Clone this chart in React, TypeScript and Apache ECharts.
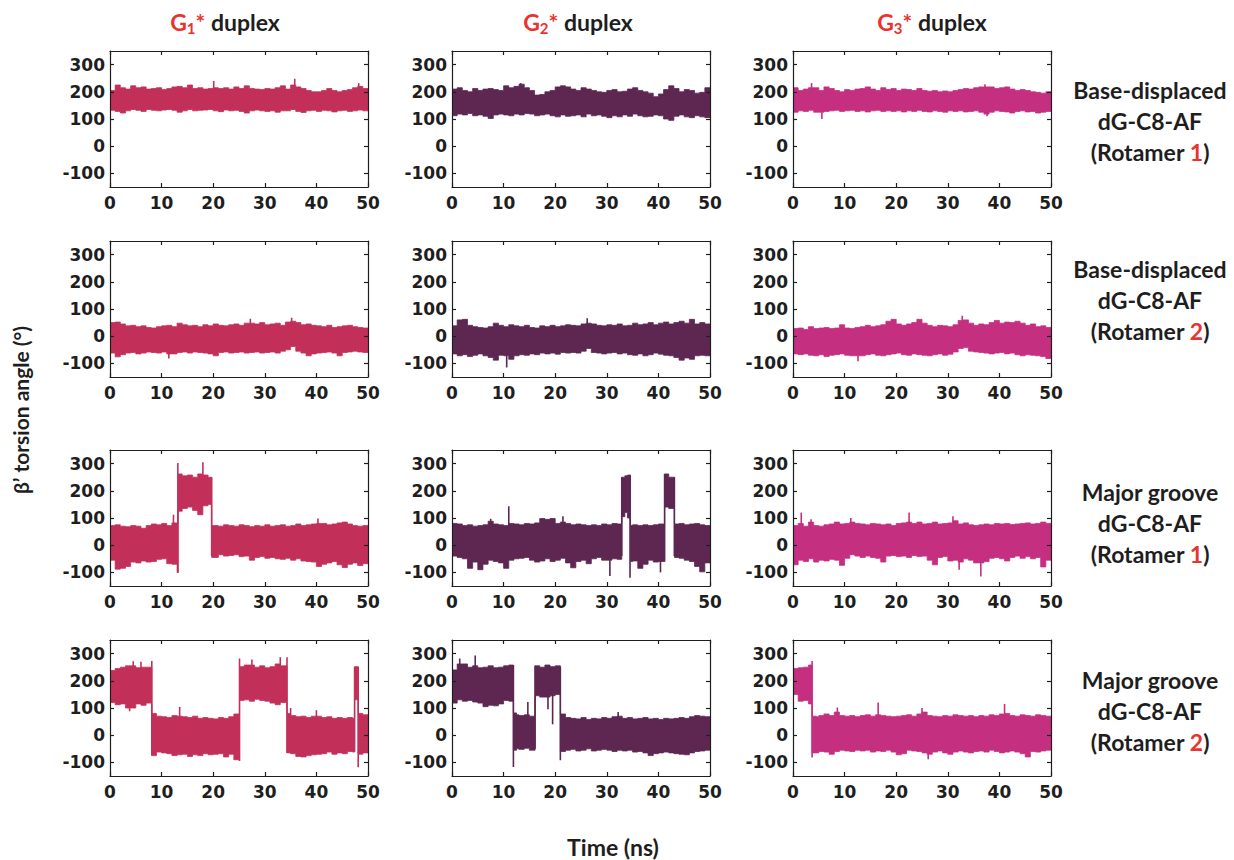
import { useEffect, useRef } from "react";
import * as echarts from "echarts";

// ---- time bins (ns) ----
const NS_BINS = [0,1,2,3,4,5,6,7,8,9,10,11,12,13,14,15,16,17,18,19,20,21,22,23,24,25,26,27,28,29,30,31,32,33,34,35,36,37,38,39,40,41,42,43,44,45,46,47,48,49];
const T_END = 50;

// Each trace: bin starts (ns), lower / upper envelope of β' (°) per bin, and
// isolated excursions [time, from, to].

// Base-displaced, Rotamer 1
const g1BaseR1Lo = [132,128,122,130,135,132,128,135,132,130,133,135,132,125,130,135,130,132,133,135,130,127,133,130,132,128,122,130,133,130,128,130,125,130,130,135,128,124,130,132,128,132,130,126,130,132,128,130,133,130];
const g1BaseR1Hi = [205,225,215,210,222,215,218,210,212,215,208,212,218,220,215,225,212,215,210,212,215,212,215,210,218,212,222,212,210,208,212,210,215,222,210,225,218,212,205,200,200,205,212,205,200,205,208,215,220,212];
const g1BaseR1Spikes = [[20.1,200,240],[35.8,205,248],[48.2,205,232]];

const g2BaseR1Lo = [112,118,115,120,112,115,110,102,115,118,115,112,118,115,120,118,112,115,118,112,108,115,110,112,115,108,118,112,115,110,105,112,108,115,110,118,112,108,110,115,112,100,95,110,115,108,105,112,108,105];
const g2BaseR1Hi = [210,215,205,200,212,205,210,212,208,205,222,215,220,228,215,205,188,190,200,205,218,222,218,210,205,215,210,205,200,198,205,208,200,202,210,215,205,200,195,182,192,208,222,212,200,208,205,195,198,215];
const g2BaseR1Spikes = [[13.3,200,232]];

const g3BaseR1Lo = [125,130,128,132,125,125,128,130,132,128,130,132,128,130,126,130,132,128,130,128,130,126,130,128,132,128,126,130,128,125,130,128,130,126,128,130,125,118,125,130,128,126,122,128,130,126,128,122,125,128];
const g3BaseR1Hi = [215,205,210,215,215,205,218,212,205,200,208,205,210,212,218,210,205,215,208,212,205,210,208,205,212,205,202,205,200,203,200,205,208,212,210,215,218,218,218,212,215,218,210,205,208,205,200,198,195,200];
const g3BaseR1Spikes = [[3.6,205,232],[5.6,125,100],[37.2,205,228],[37.6,125,110]];

// Base-displaced, Rotamer 2
const g1BaseR2Lo = [-62,-76,-68,-62,-60,-65,-62,-58,-60,-62,-58,-65,-65,-60,-58,-62,-58,-60,-62,-65,-72,-60,-58,-62,-60,-58,-62,-60,-58,-62,-60,-58,-62,-55,-50,-38,-55,-62,-72,-65,-62,-60,-58,-62,-72,-60,-58,-55,-58,-60];
const g1BaseR2Hi = [50,52,45,38,40,35,38,32,30,35,38,40,35,48,42,38,40,35,42,38,45,40,38,42,45,40,48,48,45,50,42,45,48,40,52,55,50,42,45,40,38,35,40,32,35,38,40,35,32,30];
const g1BaseR2Spikes = [[11.4,-60,-82],[27.2,40,64],[35.2,45,68]];

const g2BaseR2Lo = [-65,-72,-68,-75,-70,-65,-72,-78,-88,-70,-72,-85,-72,-68,-70,-65,-68,-62,-65,-62,-66,-60,-62,-60,-62,-55,-45,-60,-62,-65,-62,-60,-65,-62,-68,-70,-65,-72,-68,-62,-66,-70,-72,-78,-88,-80,-85,-72,-70,-72];
const g2BaseR2Hi = [38,60,62,40,35,32,30,35,48,40,35,42,38,35,40,32,30,38,35,40,35,38,42,40,38,45,48,45,40,38,42,40,45,38,40,48,42,45,50,42,48,52,45,50,55,48,62,45,50,45];
const g2BaseR2Spikes = [[10.6,-65,-115],[26.2,40,66]];

const g3BaseR2Lo = [-65,-68,-65,-70,-72,-68,-75,-70,-68,-65,-70,-72,-72,-72,-68,-65,-70,-72,-68,-65,-62,-68,-70,-65,-68,-70,-72,-68,-65,-70,-66,-58,-45,-42,-55,-58,-60,-62,-65,-62,-60,-65,-62,-68,-72,-68,-70,-72,-75,-82];
const g3BaseR2Hi = [28,30,25,35,28,30,32,28,30,42,30,28,32,35,40,35,38,42,55,62,45,40,45,50,62,48,40,35,40,38,35,42,58,60,48,40,45,42,50,58,48,52,50,55,48,40,45,35,38,32];
const g3BaseR2Spikes = [[12.6,-70,-92],[32.8,45,75]];

// Major groove, Rotamer 1
const g1GrooveR1Start = [0,1,2,3,4,5,6,7,8,9,10,11,12,13,13.2,14,15,16,17,18,19,19.7,21,22,23,24,25,26,27,28,29,30,31,32,33,34,35,36,37,38,39,40,41,42,43,44,45,46,47,48,49];
const g1GrooveR1Lo = [-55,-88,-85,-78,-62,-65,-58,-62,-60,-52,-50,-68,-70,-100,125,135,140,128,112,145,150,-45,-35,-40,-38,-35,-42,-40,-55,-45,-42,-48,-45,-50,-52,-48,-55,-50,-58,-60,-62,-78,-70,-65,-60,-72,-82,-70,-65,-75,-68];
const g1GrooveR1Hi = [72,75,70,68,72,70,62,72,78,75,80,72,82,78,262,255,258,250,262,258,250,72,70,75,72,70,75,72,68,72,70,75,70,72,75,70,72,78,72,75,78,80,80,75,78,82,85,78,72,70,72];
const g1GrooveR1Spikes = [[12.3,40,112],[13.15,-102,302],[18.0,200,305],[19.7,-40,250],[40.3,60,98]];

const g2GrooveR1Start = [0,1,2,3,4,5,6,7,8,9,10,11,12,13,14,15,16,17,18,19,20,21,22,23,24,25,26,27,28,29,30,31,32,32.9,33.5,34,34.6,35,36,37,38,39,40,41.2,42,43.1,44,45,46,47,48,49];
const g2GrooveR1Lo = [-40,-45,-50,-85,-62,-90,-70,-55,-60,-65,-85,-55,-50,-48,-45,-55,-62,-58,-50,-60,-55,-48,-65,-83,-60,-55,-68,-50,-45,-55,-55,-50,-52,105,120,100,-60,-58,-85,-70,-55,-62,-60,140,135,-45,-48,-55,-60,-78,-98,-65];
const g2GrooveR1Hi = [80,78,72,75,70,72,75,88,78,75,72,80,78,75,80,78,82,98,95,98,80,85,80,75,78,75,72,75,72,78,75,80,78,250,255,258,72,75,72,75,72,75,78,262,250,78,80,75,78,80,75,72];
const g2GrooveR1Spikes = [[7.5,70,97],[11.0,60,143],[21.5,70,106],[30.6,-50,-113],[32.9,-40,250],[34.5,-120,258],[40.4,-55,-100],[41.2,-60,262],[43.1,-40,250]];

const g3GrooveR1Lo = [-72,-55,-60,-50,-62,-55,-58,-52,-55,-74,-48,-35,-40,-45,-40,-45,-48,-62,-40,-38,-42,-40,-45,-38,-42,-40,-55,-72,-45,-42,-58,-55,-62,-50,-55,-65,-65,-60,-48,-45,-50,-58,-45,-40,-48,-42,-50,-45,-80,-55];
const g3GrooveR1Hi = [72,80,70,85,72,70,75,78,85,78,80,85,80,78,75,80,78,75,78,72,80,82,85,80,85,78,80,85,78,80,82,90,78,82,75,72,75,78,75,80,78,80,76,78,80,82,78,80,85,80];
const g3GrooveR1Spikes = [[1.6,70,120],[3.5,70,95],[11.2,70,100],[22.5,75,120],[31.0,75,106],[32.2,-60,-90],[36.4,-60,-115]];

// Major groove, Rotamer 2
const g1GrooveR2Start = [0,1,2,3,4,5,6,7,8.1,9,10,11,12,13,14,15,16,17,18,19,20,21,22,23,24,25.1,26,27,28,29,30,31,32,33,34.3,35,36,37,38,39,40,41,42,43,44,45,46,47,47.4,48.1,49];
const g1GrooveR2Lo = [120,112,115,100,100,115,110,118,-75,-62,-65,-68,-75,-72,-70,-78,-72,-75,-68,-72,-70,-68,-80,-70,-90,128,130,125,132,128,125,118,112,120,-65,-68,-78,-80,-75,-72,-70,-68,-62,-70,-65,-68,-60,-62,130,-70,-65];
const g1GrooveR2Hi = [238,245,250,255,255,248,250,250,80,70,68,65,72,70,68,65,70,62,65,62,60,65,62,68,78,252,258,258,250,255,248,252,262,255,80,72,68,70,65,70,70,65,68,62,65,62,65,62,252,80,75];
const g1GrooveR2Spikes = [[3.8,110,88],[4.5,240,272],[6.0,240,270],[8.1,-75,273],[13.5,50,104],[25.1,-95,282],[27.5,220,278],[33.0,220,287],[34.3,-65,287],[35.0,60,100],[40.0,60,92],[47.4,-60,252],[48.1,-118,252]];

const g2GrooveR2Start = [0,1,2,3,4,5,6,7,8,9,10,11,11.9,12.5,13,14,15,16.1,17,18,19,20,21,22,23,24,25,26,27,28,29,30,31,32,33,34,35,36,37,38,39,40,41,42,43,44,45,46,47,48,49];
const g2GrooveR2Lo = [118,130,125,128,122,118,105,110,108,115,128,125,-55,-50,-52,-48,-55,145,140,140,145,150,-60,-55,-52,-58,-55,-50,-58,-55,-52,-55,-60,-55,-58,-55,-62,-60,-65,-75,-68,-65,-62,-65,-68,-70,-72,-65,-60,-58,-55];
const g2GrooveR2Hi = [240,262,262,250,255,248,250,255,248,250,255,258,82,75,72,75,70,255,250,258,252,255,78,65,62,60,65,58,62,60,65,62,68,70,62,65,60,62,65,60,62,58,62,60,62,65,62,68,72,70,68];
const g2GrooveR2Spikes = [[1.5,240,282],[4.5,240,293],[11.9,-117,258],[14.7,70,122],[16.1,-50,255],[18.6,140,95],[19.5,150,40],[21.0,-92,252],[32.2,50,85]];

const g3GrooveR2Start = [0,1,2,3,3.7,4.5,5,6,7,8,9,10,11,12,13,14,15,16,17,18,19,20,21,22,23,24,25,26,27,28,29,30,31,32,33,34,35,36,37,38,39,40,41,42,43,44,45,46,47,48,49];
const g3GrooveR2Lo = [150,125,128,115,-65,-65,-60,-62,-70,-60,-55,-58,-60,-55,-58,-55,-62,-58,-60,-55,-62,-72,-68,-55,-58,-60,-65,-70,-62,-58,-65,-70,-62,-58,-62,-65,-60,-58,-62,-55,-60,-65,-62,-58,-62,-68,-80,-60,-62,-58,-55];
const g3GrooveR2Hi = [245,248,250,258,70,68,72,78,72,85,72,70,72,68,72,75,70,75,72,70,68,70,72,75,70,78,85,72,70,68,72,70,75,72,70,72,68,72,70,75,72,78,80,72,70,75,72,70,75,72,70];
const g3GrooveR2Spikes = [[3.7,-82,273],[8.6,60,102],[16.5,60,120],[25.0,60,100],[26.2,-60,-88],[41.0,60,115]];

const PANELS = [
  [
    { start: NS_BINS, lo: g1BaseR1Lo, hi: g1BaseR1Hi, spikes: g1BaseR1Spikes },
    { start: NS_BINS, lo: g2BaseR1Lo, hi: g2BaseR1Hi, spikes: g2BaseR1Spikes },
    { start: NS_BINS, lo: g3BaseR1Lo, hi: g3BaseR1Hi, spikes: g3BaseR1Spikes },
  ],
  [
    { start: NS_BINS, lo: g1BaseR2Lo, hi: g1BaseR2Hi, spikes: g1BaseR2Spikes },
    { start: NS_BINS, lo: g2BaseR2Lo, hi: g2BaseR2Hi, spikes: g2BaseR2Spikes },
    { start: NS_BINS, lo: g3BaseR2Lo, hi: g3BaseR2Hi, spikes: g3BaseR2Spikes },
  ],
  [
    { start: g1GrooveR1Start, lo: g1GrooveR1Lo, hi: g1GrooveR1Hi, spikes: g1GrooveR1Spikes },
    { start: g2GrooveR1Start, lo: g2GrooveR1Lo, hi: g2GrooveR1Hi, spikes: g2GrooveR1Spikes },
    { start: NS_BINS, lo: g3GrooveR1Lo, hi: g3GrooveR1Hi, spikes: g3GrooveR1Spikes },
  ],
  [
    { start: g1GrooveR2Start, lo: g1GrooveR2Lo, hi: g1GrooveR2Hi, spikes: g1GrooveR2Spikes },
    { start: g2GrooveR2Start, lo: g2GrooveR2Lo, hi: g2GrooveR2Hi, spikes: g2GrooveR2Spikes },
    { start: g3GrooveR2Start, lo: g3GrooveR2Lo, hi: g3GrooveR2Hi, spikes: g3GrooveR2Spikes },
  ],
];

const DUPLEX_NUMBERS = ["1", "2", "3"];
const ROW_LABELS = [
  ["Base-displaced", "dG-C8-AF", "1"],
  ["Base-displaced", "dG-C8-AF", "2"],
  ["Major groove", "dG-C8-AF", "1"],
  ["Major groove", "dG-C8-AF", "2"],
];
const Y_TICKS = [-100, 0, 100, 200, 300];
const Y_MIN = -150;
const Y_MAX = 350;
const X_INTERVAL = 10;

const COLORS = ["#c2305a", "#5d2752", "#c52f80"];
const RED = "#e8332f";
const INK = "#1e1e1e";

// layout (px)
const COL_LEFT = [110, 452, 793];
const ROW_TOP = [51, 241, 450, 640];
const PLOT_W = 258;
const PLOT_H = 136;
const TITLE_X = [225, 578, 932];
const ROW_LABEL_X = 1150;
const ROW_LABEL_Y = [90, 269, 492, 680];
const LINE_GAP = 31;

const TICK_FONT = { fontFamily: "DejaVu Sans", fontWeight: "bold" as const, fontSize: 17, color: INK };
const LABEL_FONT = "Lato";
const LABEL_SIZE = 23;

type Trace = { start: number[]; lo: number[]; hi: number[]; spikes: number[][] };

// Step outline of the envelope: top edge left→right, bottom edge right→left.
function envelopePoints(p: Trace, api: any): number[][] {
  const n = p.start.length;
  const end = (i: number) => (i + 1 < n ? p.start[i + 1] : T_END);
  const pts: number[][] = [];
  for (let i = 0; i < n; i++) {
    pts.push(api.coord([p.start[i], p.hi[i]]));
    pts.push(api.coord([end(i), p.hi[i]]));
  }
  for (let i = n - 1; i >= 0; i--) {
    pts.push(api.coord([end(i), p.lo[i]]));
    pts.push(api.coord([p.start[i], p.lo[i]]));
  }
  return pts;
}

function buildOption() {
  const grids: any[] = [];
  const xAxes: any[] = [];
  const yAxes: any[] = [];
  const series: any[] = [];

  PANELS.forEach((row, r) => {
    row.forEach((p: Trace, c) => {
      const k = grids.length;
      const color = COLORS[c];
      grids.push({ left: COL_LEFT[c], top: ROW_TOP[r], width: PLOT_W, height: PLOT_H, containLabel: false });
      const axisLine = { show: true, onZero: false, lineStyle: { color: INK, width: 1.2 } };
      const tick = { show: true, inside: true, length: 4, lineStyle: { color: INK, width: 1.2 } };
      xAxes.push({
        gridIndex: k, type: "value", position: "bottom", min: 0, max: T_END, interval: X_INTERVAL, z: 5,
        axisLine, axisTick: tick, splitLine: { show: false },
        axisLabel: { ...TICK_FONT, margin: 7, showMinLabel: true, showMaxLabel: true },
      });
      xAxes.push({
        gridIndex: k, type: "value", position: "top", min: 0, max: T_END, interval: X_INTERVAL, z: 5,
        axisLine, axisTick: tick, splitLine: { show: false }, axisLabel: { show: false },
      });
      yAxes.push({
        gridIndex: k, type: "value", position: "left", min: Y_MIN, max: Y_MAX, z: 5,
        axisLine, axisTick: { ...tick, customValues: Y_TICKS }, splitLine: { show: false },
        axisLabel: { ...TICK_FONT, margin: 5, customValues: Y_TICKS },
      });
      yAxes.push({
        gridIndex: k, type: "value", position: "right", min: Y_MIN, max: Y_MAX, z: 5,
        axisLine, axisTick: { ...tick, customValues: Y_TICKS }, splitLine: { show: false },
        axisLabel: { show: false },
      });

      const bands = p.start.map((s, i) => [s, p.lo[i], p.hi[i], i + 1 < p.start.length ? p.start[i + 1] : T_END]);
      series.push({
        type: "custom",
        xAxisIndex: 2 * k,
        yAxisIndex: 2 * k,
        clip: true,
        encode: { x: [0, 3], y: [1, 2] },
        data: bands,
        renderItem: (params: any, api: any) => {
          if (params.dataIndex !== 0) return { type: "group", children: [] };
          return {
            type: "polygon",
            shape: { points: envelopePoints(p, api) },
            style: { fill: color, stroke: color, lineWidth: 0.8 },
          };
        },
      });
      series.push({
        type: "custom",
        xAxisIndex: 2 * k,
        yAxisIndex: 2 * k,
        clip: true,
        encode: { x: 0, y: [1, 2] },
        data: p.spikes,
        renderItem: (_params: any, api: any) => {
          const a = api.coord([api.value(0), api.value(1)]);
          const b = api.coord([api.value(0), api.value(2)]);
          return {
            type: "line",
            shape: { x1: a[0], y1: a[1], x2: b[0], y2: b[1] },
            style: { stroke: color, lineWidth: 1.6 },
          };
        },
      });
    });
  });

  const graphics: any[] = [];
  DUPLEX_NUMBERS.forEach((n, c) => {
    graphics.push({
      type: "text",
      x: TITLE_X[c],
      y: 22,
      style: {
        text: `{r|G}{s|${n}}{r|*}{k| duplex}`,
        textAlign: "center",
        textVerticalAlign: "middle",
        rich: {
          r: { fill: RED, fontFamily: LABEL_FONT, fontWeight: "bold", fontSize: LABEL_SIZE, lineHeight: 27 },
          s: { fill: RED, fontFamily: LABEL_FONT, fontWeight: "bold", fontSize: 15, lineHeight: 15, verticalAlign: "bottom" },
          k: { fill: INK, fontFamily: LABEL_FONT, fontWeight: "bold", fontSize: LABEL_SIZE, lineHeight: 27 },
        },
      },
    });
  });
  ROW_LABELS.forEach((lines, r) => {
    const y0 = ROW_LABEL_Y[r];
    graphics.push({
      type: "text", x: ROW_LABEL_X, y: y0,
      style: { text: lines[0], textAlign: "center", textVerticalAlign: "middle", fill: INK, font: `bold ${LABEL_SIZE}px ${LABEL_FONT}` },
    });
    graphics.push({
      type: "text", x: ROW_LABEL_X, y: y0 + LINE_GAP,
      style: { text: lines[1], textAlign: "center", textVerticalAlign: "middle", fill: INK, font: `bold ${LABEL_SIZE}px ${LABEL_FONT}` },
    });
    graphics.push({
      type: "text", x: ROW_LABEL_X, y: y0 + 2 * LINE_GAP,
      style: {
        text: `{k|(Rotamer }{r|${lines[2]}}{k|)}`,
        textAlign: "center",
        textVerticalAlign: "middle",
        rich: {
          k: { fill: INK, fontFamily: LABEL_FONT, fontWeight: "bold", fontSize: LABEL_SIZE },
          r: { fill: RED, fontFamily: LABEL_FONT, fontWeight: "bold", fontSize: LABEL_SIZE },
        },
      },
    });
  });
  graphics.push({
    type: "text", x: 20, y: 410, rotation: Math.PI / 2,
    style: { text: "β’ torsion angle (°)", textAlign: "center", textVerticalAlign: "middle", fill: INK, font: `bold 21px ${LABEL_FONT}` },
  });
  graphics.push({
    type: "text", x: 613, y: 847,
    style: { text: "Time (ns)", textAlign: "center", textVerticalAlign: "middle", fill: INK, font: `bold ${LABEL_SIZE}px ${LABEL_FONT}` },
  });

  return {
    animation: false,
    backgroundColor: "#ffffff",
    grid: grids,
    xAxis: xAxes,
    yAxis: yAxes,
    series,
    graphic: { elements: graphics },
  };
}

export default function App() {
  const ref = useRef<HTMLDivElement>(null);
  useEffect(() => {
    if (!ref.current) return;
    const chart = echarts.init(ref.current, null, { renderer: "svg" });
    chart.setOption(buildOption() as any);
    return () => chart.dispose();
  }, []);
  return (
    <div
      ref={ref}
      style={{ position: "fixed", left: 0, top: 0, width: 1234, height: 860, background: "#fff" }}
    />
  );
}
